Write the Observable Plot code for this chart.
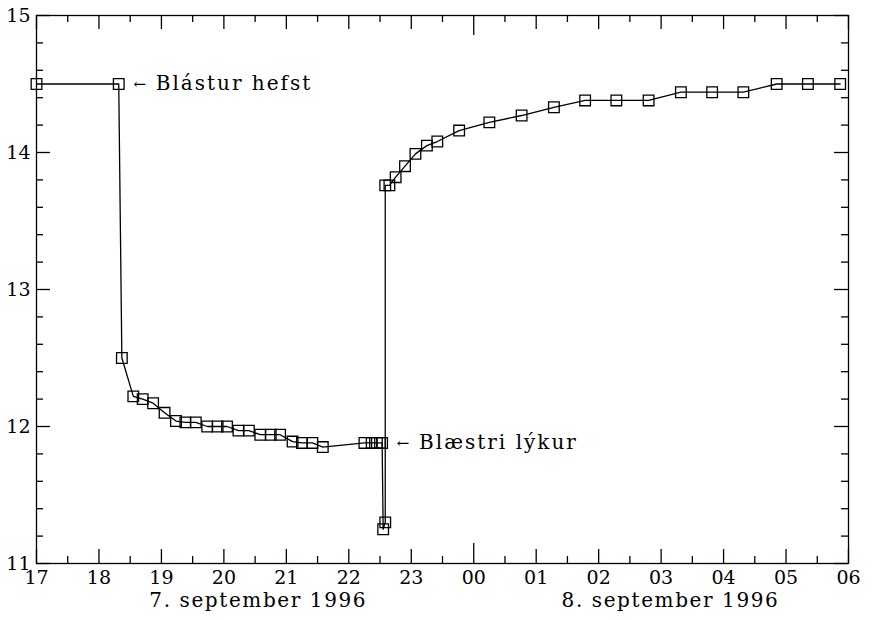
<!DOCTYPE html>
<html>
<head>
<meta charset="utf-8">
<script src="https://cdn.jsdelivr.net/npm/d3@7"></script>
<script src="https://cdn.jsdelivr.net/npm/@observablehq/plot@0.6"></script>
<style>
  html, body { margin: 0; padding: 0; background: #fff; }
  #chart { width: 879px; height: 620px; }
</style>
</head>
<body>
<div id="chart"></div>
<script>
// Measurement times (7–8 September 1996) and values
const times = [
  "07 17:00","07 18:19","07 18:22","07 18:33","07 18:42","07 18:52","07 19:03","07 19:14",
  "07 19:23","07 19:33","07 19:44","07 19:54","07 20:03","07 20:14","07 20:24","07 20:35",
  "07 20:45","07 20:54","07 21:06","07 21:15","07 21:25","07 21:35","07 22:15","07 22:22",
  "07 22:27","07 22:30","07 22:32","07 22:33","07 22:35","07 22:35","07 22:39","07 22:45",
  "07 22:54","07 23:04","07 23:15","07 23:25","07 23:46","08 00:15","08 00:46","08 01:17",
  "08 01:47","08 02:17","08 02:48","08 03:19","08 03:49","08 04:19","08 04:51","08 05:21",
  "08 05:52"
];
const values = [
  14.50,14.50,12.50,12.22,12.20,12.17,12.10,12.04,
  12.03,12.03,12.00,12.00,12.00,11.97,11.97,11.94,
  11.94,11.94,11.89,11.88,11.88,11.85,11.88,11.88,
  11.88,11.88,11.88,11.25,11.30,13.76,13.76,13.82,
  13.90,13.99,14.05,14.08,14.16,14.22,14.27,14.33,
  14.38,14.38,14.38,14.44,14.44,14.44,14.50,14.50,
  14.50
];
const annotationTimes = ["07 18:19", "07 22:32"];
const annotationValues = [14.50, 11.88];
const annotationLabels = ["Blástur hefst", "Blæstri lýkur"];
const dateLabelTimes = ["07 20:33", "08 03:09"];
const dateLabelTexts = ["7. september 1996", "8. september 1996"];
const xStart = "07 17:00", xEnd = "08 06:00";
const yTickValues = [11, 12, 13, 14, 15];

const parse = s => {
  const [d, hm] = s.split(" ");
  const [h, m] = hm.split(":").map(Number);
  return new Date(Date.UTC(1996, 8, +d, h, m));
};

const data = times.map((t, i) => ({t: parse(t), v: values[i]}));
const notes = annotationTimes.map((t, i) => ({t: parse(t), v: annotationValues[i], label: annotationLabels[i]}));
const dates = dateLabelTimes.map((t, i) => ({t: parse(t), label: dateLabelTexts[i]}));

const x0 = parse(xStart), x1 = parse(xEnd);
const hourTicks = d3.utcHour.every(1).range(x0, new Date(+x1 + 1));
const midnightTicks = hourTicks.filter(d => d.getUTCHours() === 0);
const regularHours = hourTicks.filter(d => d.getUTCHours() !== 0);
const halfHourTicks = d3.utcMinute.every(30).range(x0, x1).filter(d => d.getUTCMinutes() === 30);
const yMinor = d3.range(11, 15.001, 0.2).filter(v => Math.abs(v - Math.round(v)) > 1e-6);

const W = 879, H = 620;
const mL = 36, mR = 31, mT = 15, mB = 57;
const iW = W - mL - mR, iH = H - mT - mB;
const font = "DejaVu Serif";
const sw = 1.3;
const MAJ = 14, MIN = 7, MID = 20;

const chart = Plot.plot({
  width: W, height: H,
  marginLeft: mL, marginRight: mR, marginTop: mT, marginBottom: mB,
  style: {fontFamily: font, background: "#fff", color: "#000"},
  x: {type: "utc", domain: [x0, x1]},
  y: {domain: [11, 15]},
  marks: [
    Plot.frame({stroke: "#000", strokeWidth: sw}),
    // bottom ticks
    Plot.tickX(regularHours, {x: d => d, stroke: "#000", strokeWidth: sw, insetTop: iH - MAJ}),
    Plot.tickX(midnightTicks, {x: d => d, stroke: "#000", strokeWidth: sw, insetTop: iH - MID}),
    Plot.tickX(halfHourTicks, {x: d => d, stroke: "#000", strokeWidth: sw, insetTop: iH - MIN}),
    // top ticks
    Plot.tickX(regularHours, {x: d => d, stroke: "#000", strokeWidth: sw, insetBottom: iH - MAJ}),
    Plot.tickX(midnightTicks, {x: d => d, stroke: "#000", strokeWidth: sw, insetBottom: iH - MID}),
    Plot.tickX(halfHourTicks, {x: d => d, stroke: "#000", strokeWidth: sw, insetBottom: iH - MIN}),
    // left / right ticks
    Plot.tickY(yTickValues, {y: d => d, stroke: "#000", strokeWidth: sw, insetRight: iW - MAJ}),
    Plot.tickY(yMinor, {y: d => d, stroke: "#000", strokeWidth: sw, insetRight: iW - MIN}),
    Plot.tickY(yTickValues, {y: d => d, stroke: "#000", strokeWidth: sw, insetLeft: iW - MAJ}),
    Plot.tickY(yMinor, {y: d => d, stroke: "#000", strokeWidth: sw, insetLeft: iW - MIN}),
    Plot.axisX({anchor: "bottom", ticks: hourTicks, tickSize: 0, tickPadding: 7,
      tickFormat: d3.utcFormat("%H"), fontSize: 19, fontFamily: font, fill: "#000", label: null}),
    Plot.axisY({anchor: "left", ticks: yTickValues, tickSize: 0, tickPadding: 6,
      tickFormat: d => String(d), fontSize: 19, fontFamily: font, fill: "#000", label: null}),
    Plot.text(dates, {x: "t", text: "label", frameAnchor: "bottom", dy: 43,
      fontSize: 20, fontFamily: font, fill: "#000"}),
    // data
    Plot.line(data, {x: "t", y: "v", stroke: "#000", strokeWidth: sw}),
    Plot.dot(data, {x: "t", y: "v", symbol: "square", r: 6, stroke: "#000", fill: "none", strokeWidth: sw}),
    // annotations
    Plot.text(notes, {x: "t", y: "v", text: () => "←", dx: 21, fontSize: 15, fontFamily: font, fill: "#000"}),
    Plot.text(notes, {x: "t", y: "v", text: "label", dx: 37, textAnchor: "start",
      fontSize: 20, fontFamily: font, fill: "#000"})
  ]
});
d3.select(chart).selectAll("text").each(function() {
  const s = this.textContent;
  if (dateLabelTexts.includes(s)) this.style.letterSpacing = "1.6px";
  if (annotationLabels.includes(s)) this.style.letterSpacing = "2px";
});
document.getElementById("chart").appendChild(chart);
</script>
</body>
</html>
